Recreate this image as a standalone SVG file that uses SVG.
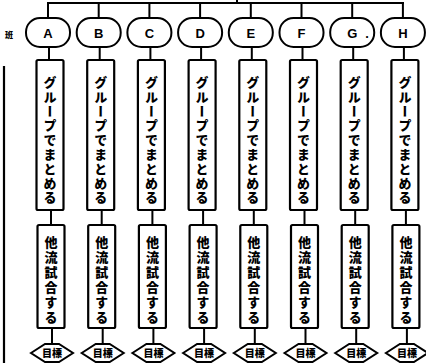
<svg xmlns="http://www.w3.org/2000/svg" width="426" height="363" viewBox="0 0 426 363">
<style>
.ln{stroke:#000;stroke-width:2;fill:none}
.stad{fill:#fff;stroke:#000;stroke-width:2}
.box{fill:#fff;stroke:#000;stroke-width:2.2}
.dia{fill:#fff;stroke:#000;stroke-width:2}
.lab{font-family:"Liberation Sans",Arial,sans-serif;font-weight:bold;font-size:13px;text-anchor:middle;fill:#000}
.vt{font-family:"Noto Sans CJK JP","Noto Sans CJK SC",sans-serif;font-weight:900;font-size:13px;writing-mode:vertical-rl;text-orientation:upright;text-anchor:middle;fill:#000}
.v1{letter-spacing:1.4px}
.v2{letter-spacing:2px}
.dt{font-family:"Noto Sans CJK JP","Noto Sans CJK SC",sans-serif;font-weight:900;font-size:10px;text-anchor:middle;fill:#000}
.side{font-family:"Noto Sans CJK JP","Noto Sans CJK SC",sans-serif;font-weight:900;font-size:8px;text-anchor:middle;fill:#000}
</style>
<rect width="426" height="363" fill="#fff"/>
<g id="connectors">
<line class="ln" x1="237" y1="0" x2="237" y2="3"/>
<line class="ln" x1="47" y1="3" x2="404" y2="3"/>
<line class="ln" x1="4" y1="66" x2="4" y2="363" style="stroke-width:2.2"/>
<path class="ln" d="M48 3V18M49 47V60M51 210V225M52 328V344"/>
<path class="ln" d="M98.7 3V18M99.7 47V60M101.7 210V225M102.7 328V344"/>
<path class="ln" d="M149.4 3V18M150.4 47V60M152.4 210V225M153.4 328V344"/>
<path class="ln" d="M200.1 3V18M201.1 47V60M203.1 210V225M204.1 328V344"/>
<path class="ln" d="M250.8 3V18M251.8 47V60M253.8 210V225M254.8 328V344"/>
<path class="ln" d="M301.5 3V18M302.5 47V60M304.5 210V225M305.5 328V344"/>
<path class="ln" d="M352.2 3V18M353.2 47V60M355.2 210V225M356.2 328V344"/>
<path class="ln" d="M402.9 3V18M403.9 47V60M405.9 210V225M406.9 328V344"/>
</g>
<g id="label-side"><text class="side" x="9" y="38">班</text></g>
<g id="col-A">
<g id="team-A"><rect class="stad" x="26" y="18" width="44" height="29" rx="14"/><text class="lab" x="48" y="37.5">A</text></g>
<g id="group-A"><rect class="box" x="36.5" y="60" width="27" height="150" rx="1.5"/><text class="vt v1" x="50" y="140.5">グループでまとめる</text></g>
<g id="match-A"><rect class="box" x="37.5" y="225" width="27" height="103" rx="1.5"/><text class="vt v2" x="51" y="280.5">他流試合する</text></g>
<g id="goal-A"><polygon class="dia" points="31,353 45,344 59,344 73,353 59,362 45,362"/><text class="dt" x="52" y="357">目標</text></g>
</g>
<g id="col-B">
<g id="team-B"><rect class="stad" x="76.7" y="18" width="44" height="29" rx="14"/><text class="lab" x="98.7" y="37.5">B</text></g>
<g id="group-B"><rect class="box" x="87.2" y="60" width="27" height="150" rx="1.5"/><text class="vt v1" x="100.7" y="140.5">グループでまとめる</text></g>
<g id="match-B"><rect class="box" x="88.2" y="225" width="27" height="103" rx="1.5"/><text class="vt v2" x="101.7" y="280.5">他流試合する</text></g>
<g id="goal-B"><polygon class="dia" points="81.7,353 95.7,344 109.7,344 123.7,353 109.7,362 95.7,362"/><text class="dt" x="102.7" y="357">目標</text></g>
</g>
<g id="col-C">
<g id="team-C"><rect class="stad" x="127.4" y="18" width="44" height="29" rx="14"/><text class="lab" x="149.4" y="37.5">C</text></g>
<g id="group-C"><rect class="box" x="137.9" y="60" width="27" height="150" rx="1.5"/><text class="vt v1" x="151.4" y="140.5">グループでまとめる</text></g>
<g id="match-C"><rect class="box" x="138.9" y="225" width="27" height="103" rx="1.5"/><text class="vt v2" x="152.4" y="280.5">他流試合する</text></g>
<g id="goal-C"><polygon class="dia" points="132.4,353 146.4,344 160.4,344 174.4,353 160.4,362 146.4,362"/><text class="dt" x="153.4" y="357">目標</text></g>
</g>
<g id="col-D">
<g id="team-D"><rect class="stad" x="178.1" y="18" width="44" height="29" rx="14"/><text class="lab" x="200.1" y="37.5">D</text></g>
<g id="group-D"><rect class="box" x="188.6" y="60" width="27" height="150" rx="1.5"/><text class="vt v1" x="202.1" y="140.5">グループでまとめる</text></g>
<g id="match-D"><rect class="box" x="189.6" y="225" width="27" height="103" rx="1.5"/><text class="vt v2" x="203.1" y="280.5">他流試合する</text></g>
<g id="goal-D"><polygon class="dia" points="183.1,353 197.1,344 211.1,344 225.1,353 211.1,362 197.1,362"/><text class="dt" x="204.1" y="357">目標</text></g>
</g>
<g id="col-E">
<g id="team-E"><rect class="stad" x="228.8" y="18" width="44" height="29" rx="14"/><text class="lab" x="250.8" y="37.5">E</text></g>
<g id="group-E"><rect class="box" x="239.3" y="60" width="27" height="150" rx="1.5"/><text class="vt v1" x="252.8" y="140.5">グループでまとめる</text></g>
<g id="match-E"><rect class="box" x="240.3" y="225" width="27" height="103" rx="1.5"/><text class="vt v2" x="253.8" y="280.5">他流試合する</text></g>
<g id="goal-E"><polygon class="dia" points="233.8,353 247.8,344 261.8,344 275.8,353 261.8,362 247.8,362"/><text class="dt" x="254.8" y="357">目標</text></g>
</g>
<g id="col-F">
<g id="team-F"><rect class="stad" x="279.5" y="18" width="44" height="29" rx="14"/><text class="lab" x="301.5" y="37.5">F</text></g>
<g id="group-F"><rect class="box" x="290" y="60" width="27" height="150" rx="1.5"/><text class="vt v1" x="303.5" y="140.5">グループでまとめる</text></g>
<g id="match-F"><rect class="box" x="291" y="225" width="27" height="103" rx="1.5"/><text class="vt v2" x="304.5" y="280.5">他流試合する</text></g>
<g id="goal-F"><polygon class="dia" points="284.5,353 298.5,344 312.5,344 326.5,353 312.5,362 298.5,362"/><text class="dt" x="305.5" y="357">目標</text></g>
</g>
<g id="col-G">
<g id="team-G"><rect class="stad" x="330.2" y="18" width="44" height="29" rx="14"/><text class="lab" x="352.2" y="37.5">G<tspan x="367">.</tspan></text></g>
<g id="group-G"><rect class="box" x="340.7" y="60" width="27" height="150" rx="1.5"/><text class="vt v1" x="354.2" y="140.5">グループでまとめる</text></g>
<g id="match-G"><rect class="box" x="341.7" y="225" width="27" height="103" rx="1.5"/><text class="vt v2" x="355.2" y="280.5">他流試合する</text></g>
<g id="goal-G"><polygon class="dia" points="335.2,353 349.2,344 363.2,344 377.2,353 363.2,362 349.2,362"/><text class="dt" x="356.2" y="357">目標</text></g>
</g>
<g id="col-H">
<g id="team-H"><rect class="stad" x="380.9" y="18" width="44" height="29" rx="14"/><text class="lab" x="402.9" y="37.5">H</text></g>
<g id="group-H"><rect class="box" x="391.4" y="60" width="27" height="150" rx="1.5"/><text class="vt v1" x="404.9" y="140.5">グループでまとめる</text></g>
<g id="match-H"><rect class="box" x="392.4" y="225" width="27" height="103" rx="1.5"/><text class="vt v2" x="405.9" y="280.5">他流試合する</text></g>
<g id="goal-H"><polygon class="dia" points="385.9,353 399.9,344 413.9,344 427.9,353 413.9,362 399.9,362"/><text class="dt" x="406.9" y="357">目標</text></g>
</g>
</svg>
